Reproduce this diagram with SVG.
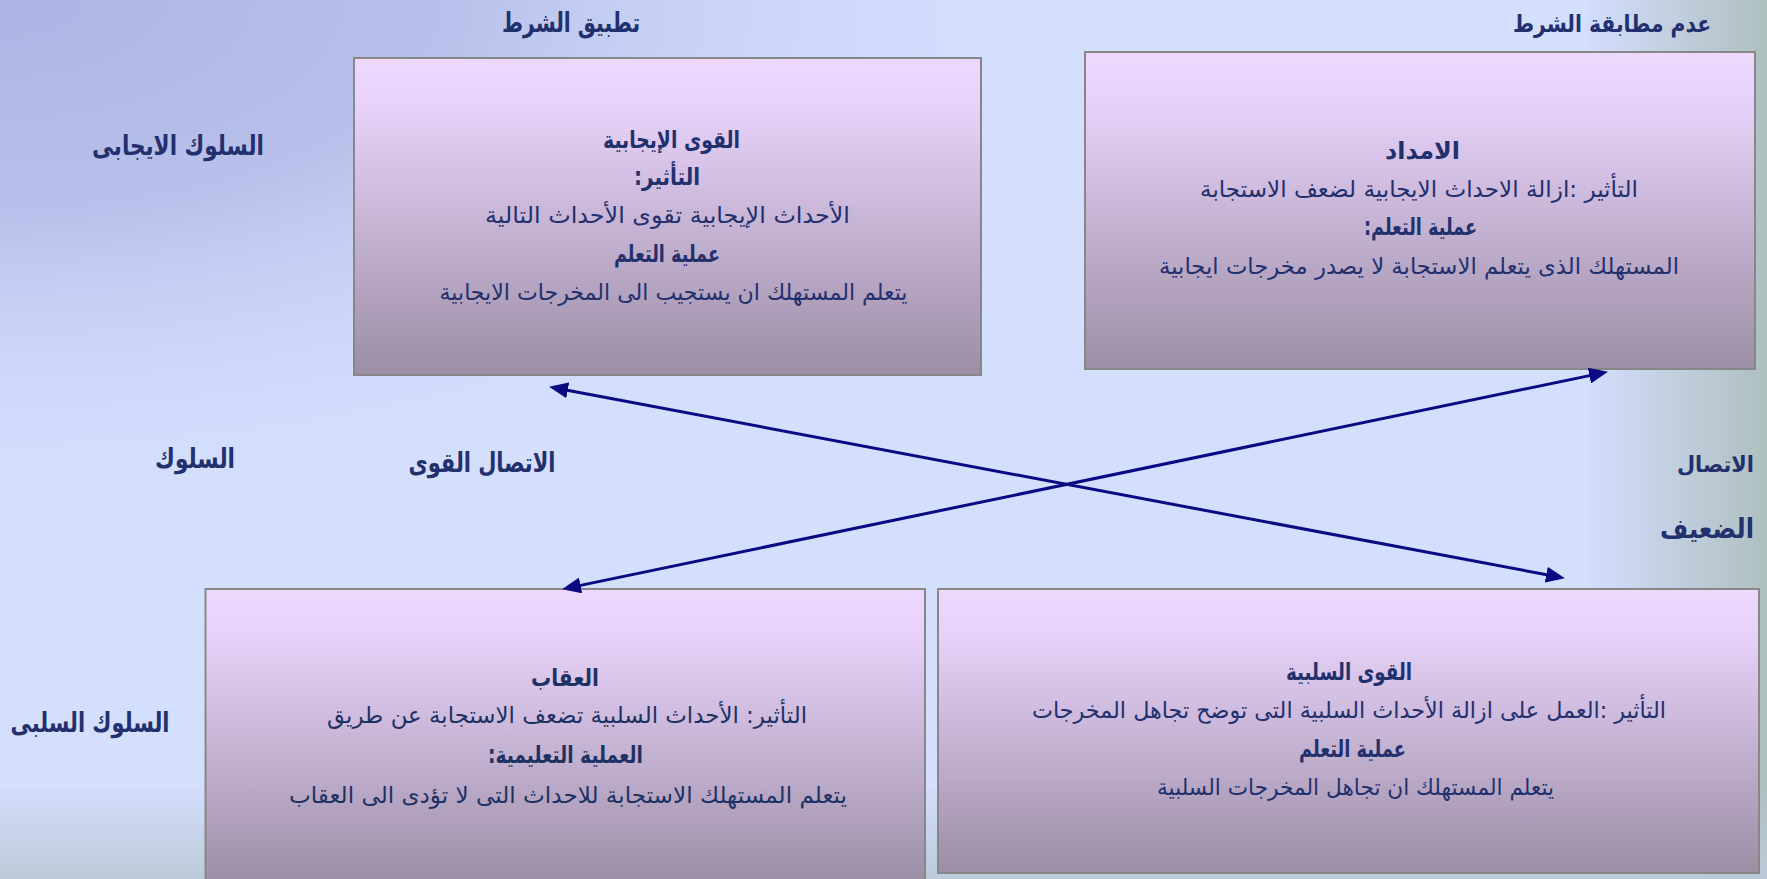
<svg xmlns="http://www.w3.org/2000/svg" width="1767" height="879" viewBox="0 0 1767 879">
  <defs>
    <radialGradient id="bgTL" gradientUnits="userSpaceOnUse" cx="0" cy="0" r="1" gradientTransform="scale(1100,520)">
      <stop offset="0" stop-color="#ADB4E4" stop-opacity="1"/>
      <stop offset="0.4" stop-color="#B2BAE7" stop-opacity="0.85"/>
      <stop offset="1" stop-color="#D4DEFD" stop-opacity="0"/>
    </radialGradient>
    <linearGradient id="bgR" gradientUnits="userSpaceOnUse" x1="1585" y1="0" x2="1767" y2="0">
      <stop offset="0" stop-color="#AEBFC0" stop-opacity="0"/>
      <stop offset="1" stop-color="#AEBFC0" stop-opacity="1"/>
    </linearGradient>
    <linearGradient id="bgB" gradientUnits="userSpaceOnUse" x1="0" y1="785" x2="0" y2="879">
      <stop offset="0" stop-color="#BCCAD8" stop-opacity="0"/>
      <stop offset="1" stop-color="#BCCAD8" stop-opacity="1"/>
    </linearGradient>
    <linearGradient id="boxFill" x1="0" y1="0" x2="0" y2="1">
      <stop offset="0" stop-color="#EDD8FE"/>
      <stop offset="0.15" stop-color="#E8D2FA"/>
      <stop offset="1" stop-color="#9C8EA5"/>
    </linearGradient>
    <marker id="arr" markerUnits="userSpaceOnUse" markerWidth="22" markerHeight="16" refX="10" refY="8" orient="auto-start-reverse" viewBox="0 0 22 16">
      <path d="M0,0 L19,8 L0,16 Z" fill="#0A0A82"/>
    </marker>
    <style>
      .box { fill: url(#boxFill); stroke: #878787; stroke-width: 2; }
      .lbl { font-family: "DejaVu Sans", "Noto Sans", sans-serif; font-size: 27px; font-weight: bold; fill: #22306E; }
      .sm24 { font-size: 24px; }
      .sm22 { font-size: 22px; }
      .hd { font-family: "DejaVu Sans", "Noto Sans", sans-serif; font-size: 24px; font-weight: bold; fill: #22306E; text-anchor: middle; }
      .tx { font-family: "DejaVu Sans", "Noto Sans", sans-serif; font-size: 23px; fill: #22306E; text-anchor: middle; }
      .dk { fill: #1D3262; }
      .conn { stroke: #0A0A82; stroke-width: 3; fill: none; marker-start: url(#arr); marker-end: url(#arr); }
    </style>
  </defs>

  <g id="background">
    <rect x="0" y="0" width="1767" height="879" fill="#D4DEFD"/>
    <rect x="0" y="0" width="1767" height="879" fill="url(#bgTL)"/>
    <rect x="0" y="0" width="1767" height="879" fill="url(#bgR)"/>
    <rect x="0" y="0" width="1767" height="879" fill="url(#bgB)"/>
  </g>

  <g id="labels">
    <text class="lbl" x="571" y="32" text-anchor="middle" direction="rtl" textLength="138" lengthAdjust="spacingAndGlyphs">تطبيق الشرط</text>
    <text class="lbl sm24" x="1612" y="32" text-anchor="middle" direction="rtl" textLength="198" lengthAdjust="spacingAndGlyphs">عدم مطابقة الشرط</text>
    <text class="lbl" x="178" y="155" text-anchor="middle" direction="rtl" textLength="172" lengthAdjust="spacingAndGlyphs">السلوك الايجابى</text>
    <text class="lbl" x="195" y="468" text-anchor="middle" direction="rtl" textLength="80" lengthAdjust="spacingAndGlyphs">السلوك</text>
    <text class="lbl" x="482" y="472" text-anchor="middle" direction="rtl" textLength="147" lengthAdjust="spacingAndGlyphs">الاتصال القوى</text>
    <text class="lbl sm22" x="1715.5" y="472" text-anchor="middle" direction="rtl" textLength="77" lengthAdjust="spacingAndGlyphs">الاتصال</text>
    <text class="lbl" x="1707" y="538" text-anchor="middle" direction="rtl" textLength="94" lengthAdjust="spacingAndGlyphs">الضعيف</text>
    <text class="lbl" x="90" y="732" text-anchor="middle" direction="rtl" textLength="159" lengthAdjust="spacingAndGlyphs">السلوك السلبى</text>
  </g>

  <g id="node-positive-reinforcement">
    <rect class="box" x="354" y="58" width="627" height="317"/>
    <text class="hd" x="671.5" y="148" direction="rtl" textLength="137" lengthAdjust="spacingAndGlyphs">القوى الإيجابية</text>
    <text class="hd" x="667" y="185" direction="rtl" textLength="66" lengthAdjust="spacingAndGlyphs">التأثير:</text>
    <text class="tx" x="667.5" y="223" direction="rtl" textLength="365" lengthAdjust="spacingAndGlyphs">الأحداث الإيجابية تقوى الأحداث التالية</text>
    <text class="hd" x="667" y="262" direction="rtl" textLength="106" lengthAdjust="spacingAndGlyphs">عملية التعلم</text>
    <text class="tx" x="673.5" y="300" direction="rtl" textLength="468" lengthAdjust="spacingAndGlyphs">يتعلم المستهلك ان يستجيب الى المخرجات الايجابية</text>
  </g>

  <g id="node-extinction">
    <rect class="box" x="1085" y="52" width="670" height="317"/>
    <text class="hd" x="1422.5" y="159" direction="rtl" textLength="75" lengthAdjust="spacingAndGlyphs">الامداد</text>
    <text class="tx" x="1419" y="197" direction="rtl" textLength="438" lengthAdjust="spacingAndGlyphs">التأثير :ازالة الاحداث الايجابية لضعف الاستجابة</text>
    <text class="hd" x="1420.5" y="235" direction="rtl" textLength="113" lengthAdjust="spacingAndGlyphs">عملية التعلم:</text>
    <text class="tx" x="1419" y="274" direction="rtl" textLength="520" lengthAdjust="spacingAndGlyphs">المستهلك الذى يتعلم الاستجابة لا يصدر مخرجات ايجابية</text>
  </g>

  <g id="node-punishment">
    <rect class="box" x="205.5" y="589" width="719.5" height="296"/>
    <text class="hd dk" x="565" y="686" direction="rtl" textLength="68" lengthAdjust="spacingAndGlyphs">العقاب</text>
    <text class="tx dk" x="567" y="723" direction="rtl" textLength="480" lengthAdjust="spacingAndGlyphs">التأثير: الأحداث السلبية تضعف الاستجابة عن طريق</text>
    <text class="hd dk" x="565.5" y="763" direction="rtl" textLength="155" lengthAdjust="spacingAndGlyphs">العملية التعليمية:</text>
    <text class="tx dk" x="568" y="803" direction="rtl" textLength="558" lengthAdjust="spacingAndGlyphs">يتعلم المستهلك الاستجابة للاحداث التى لا تؤدى الى العقاب</text>
  </g>

  <g id="node-negative-reinforcement">
    <rect class="box" x="938" y="589" width="821" height="284"/>
    <text class="hd" x="1349" y="680" direction="rtl" textLength="126" lengthAdjust="spacingAndGlyphs">القوى السلبية</text>
    <text class="tx" x="1349" y="718" direction="rtl" textLength="634" lengthAdjust="spacingAndGlyphs">التأثير :العمل على ازالة الأحداث السلبية التى توضح تجاهل المخرجات</text>
    <text class="hd" x="1352.5" y="757" direction="rtl" textLength="107" lengthAdjust="spacingAndGlyphs">عملية التعلم</text>
    <text class="tx" x="1355.5" y="795" direction="rtl" textLength="397" lengthAdjust="spacingAndGlyphs">يتعلم المستهلك ان تجاهل المخرجات السلبية</text>
  </g>

  <g id="connectors">
    <line class="conn" x1="557.9" y1="388.5" x2="1556.1" y2="576.5"/>
    <line class="conn" x1="570.8" y1="587.4" x2="1599.2" y2="373.6"/>
  </g>
</svg>
